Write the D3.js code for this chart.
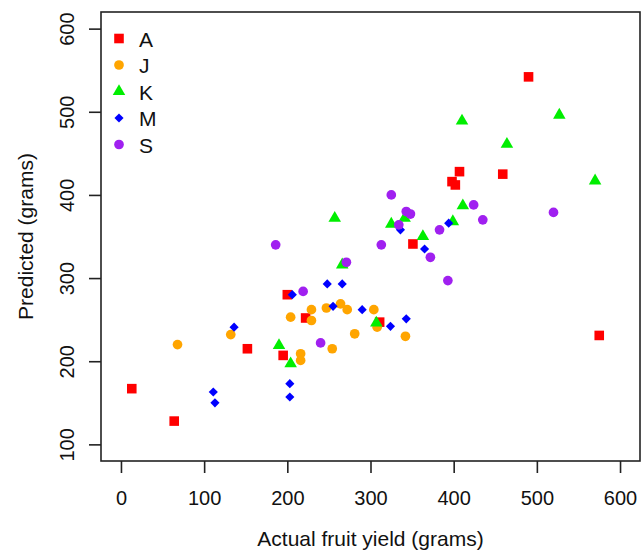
<!DOCTYPE html>
<html>
<head>
<meta charset="utf-8">
<script src="https://cdn.jsdelivr.net/npm/d3@7"></script>
<style>
  body { margin: 0; background: #fff; }
  text { font-family: "Liberation Sans", Arial, sans-serif; fill: #111; }
</style>
</head>
<body>
<div id="chart"></div>
<script>
// data: [actual, predicted]
var groupA = [[13,167],[64,128],[152,215],[195,207],[200,280],[222,252],[311,247],[351,341],
              [398,416],[402,412],[407,428],[459,425],[490,542],[575,231]];
var groupJ = [[68,220],[132,232],[204,253],[216,209],[216,201],[229,262],[229,249],[247,264],
              [254,215],[264,269],[272,262],[281,233],[304,262],[308,241],[342,230]];
var groupK = [[190,219],[204,197],[257,372],[266,316],[307,246],[325,365],[341,372],[363,350],
              [399,368],[411,387],[410,489],[464,461],[527,496],[570,417]];
var groupM = [[111,163],[113,150],[136,241],[203,173],[203,157],[206,280],[248,293],[255,266],
              [266,293],[290,262],[324,242],[336,358],[343,251],[365,335],[394,366]];
var groupS = [[186,340],[219,284],[240,222],[271,319],[313,340],[325,400],[334,364],[343,380],
              [348,377],[372,325],[383,358],[393,297],[424,388],[435,370],[520,379]];

var groupNames = ["A", "J", "K", "M", "S"];
var groupColors = ["#ff0000", "#ffa500", "#00ee00", "#0000ff", "#a020f0"];
var groupData = [groupA, groupJ, groupK, groupM, groupS];
var xTicks = [0, 100, 200, 300, 400, 500, 600];
var yTicks = [100, 200, 300, 400, 500, 600];

var width = 642, height = 553;
var box = {left: 101, right: 640, top: 12, bottom: 461};

var svg = d3.select("#chart").append("svg")
    .attr("width", width)
    .attr("height", height);

// R style: limits padded by 4%
var x = d3.scaleLinear().domain([-24, 624]).range([box.left, box.right]);
var y = d3.scaleLinear().domain([80, 620]).range([box.bottom, box.top]);

// shapes like pch 15, 16, 17, 18, 16
function marker(g, i) {
    var c = groupColors[i];
    if (i == 0) {
        g.append("path").attr("d", d3.symbol().type(d3.symbolSquare).size(92)()).attr("fill", c);
    } else if (i == 2) {
        g.append("path").attr("d", d3.symbol().type(d3.symbolTriangle).size(68)()).attr("fill", c);
    } else if (i == 3) {
        g.append("path").attr("d", d3.symbol().type(d3.symbolSquare).size(42)())
            .attr("transform", "rotate(45)").attr("fill", c);
    } else {
        g.append("path").attr("d", d3.symbol().type(d3.symbolCircle).size(74)()).attr("fill", c);
    }
}

groupData.forEach(function(data, i) {
    svg.append("g")
        .selectAll("g")
        .data(data)
        .enter()
        .append("g")
            .attr("transform", function(d) { return "translate(" + x(d[0]) + "," + y(d[1]) + ")"; })
            .each(function() { marker(d3.select(this), i); });
});

// box
svg.append("rect")
    .attr("x", box.left).attr("y", box.top)
    .attr("width", box.right - box.left).attr("height", box.bottom - box.top)
    .attr("fill", "none").attr("stroke", "#222").attr("stroke-width", 1.6);

// x axis
var xAxis = svg.append("g").attr("transform", "translate(0," + box.bottom + ")")
    .call(d3.axisBottom(x).tickValues(xTicks).tickSize(12).tickPadding(18).tickFormat(d3.format("d")));
xAxis.select(".domain").remove();
xAxis.selectAll("line").attr("stroke", "#222").attr("stroke-width", 1.6);
xAxis.selectAll("text").style("font-size", "20px").attr("fill", "#111")
    .style("font-family", "Liberation Sans, Arial, sans-serif");

// y axis, labels parallel to the axis
var yAxis = svg.append("g").attr("transform", "translate(" + box.left + ",0)")
    .call(d3.axisLeft(y).tickValues(yTicks).tickSize(12).tickFormat(d3.format("d")));
yAxis.select(".domain").remove();
yAxis.selectAll("line").attr("stroke", "#222").attr("stroke-width", 1.6);
yAxis.selectAll("text")
    .attr("x", 0).attr("dy", null)
    .attr("transform", "translate(-27,0) rotate(-90)")
    .attr("text-anchor", "middle")
    .attr("dominant-baseline", "auto")
    .attr("y", 0)
    .style("font-size", "20px").attr("fill", "#111")
    .style("font-family", "Liberation Sans, Arial, sans-serif");

// axis titles
svg.append("text")
    .attr("x", (box.left + box.right) / 2)
    .attr("y", 546)
    .attr("text-anchor", "middle")
    .style("font-size", "21px")
    .text("Actual fruit yield (grams)");

svg.append("text")
    .attr("transform", "translate(33," + (box.top + box.bottom) / 2 + ") rotate(-90)")
    .attr("text-anchor", "middle")
    .style("font-size", "21px")
    .text("Predicted (grams)");

// legend
var legend = svg.append("g")
    .selectAll("g")
    .data(groupNames)
    .enter()
    .append("g")
        .attr("transform", function(d, i) { return "translate(119," + (38.5 + i * 26.5) + ")"; });

legend.each(function(d, i) { marker(d3.select(this), i); });
legend.append("text")
    .attr("x", 20)
    .attr("y", 8)
    .style("font-size", "21px")
    .text(function(d) { return d; });
</script>
</body>
</html>
